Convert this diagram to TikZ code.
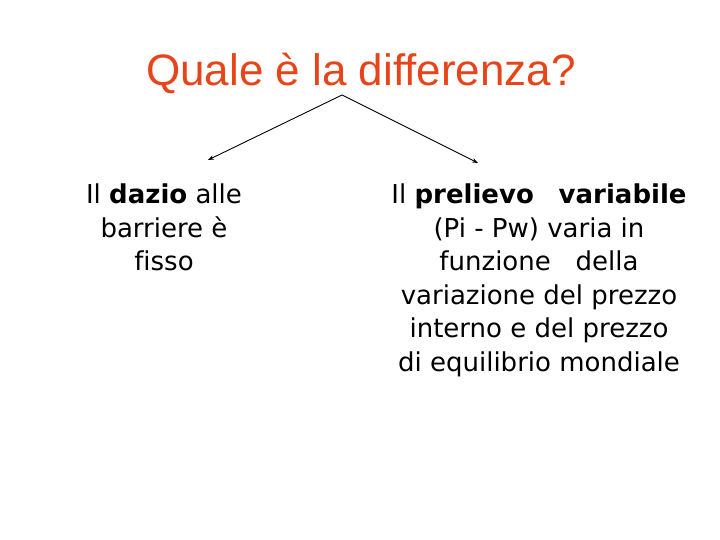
\documentclass[tikz,border=0pt]{standalone}
\usepackage{fontspec}
\usetikzlibrary{arrows.meta}
\setmainfont[Ligatures=NoCommon]{DejaVu Sans}
\newfontfamily\titlefont[Ligatures=NoCommon]{Liberation Sans}
\definecolor{titolo}{RGB}{232,68,26}
\tikzset{testo/.style={align=center,font=\fontsize{26}{33.5}\selectfont,inner sep=0pt},
  freccia/.style={line width=0.9pt,-{Stealth[length=6pt,width=4.5pt]}}}
\begin{document}
\begin{tikzpicture}[x=1pt,y=-1pt]
\useasboundingbox(0,0)rectangle(720,540);
\node[font=\titlefont\fontsize{44}{46}\selectfont,text=titolo](q)at(361,73){Quale è la differenza?};
%
\coordinate(top)at(342,95);
\coordinate(sx)at(208,160);
\coordinate(dx)at(478,163);
\draw[freccia](top)--(sx);
\draw[freccia](top)--(dx);
%
\node[testo,anchor=north](dazio)at(164,184){Il \textbf{dazio} alle\\barriere è\\fisso};
\node[testo,anchor=north](prelievo)at(539,184){Il \textbf{prelievo}\ \ \ \textbf{variabile}\\(Pi - Pw) varia in\\funzione\ \ \ della\\variazione del prezzo\\interno e del prezzo\\di equilibrio mondiale};
\end{tikzpicture}
\end{document}
